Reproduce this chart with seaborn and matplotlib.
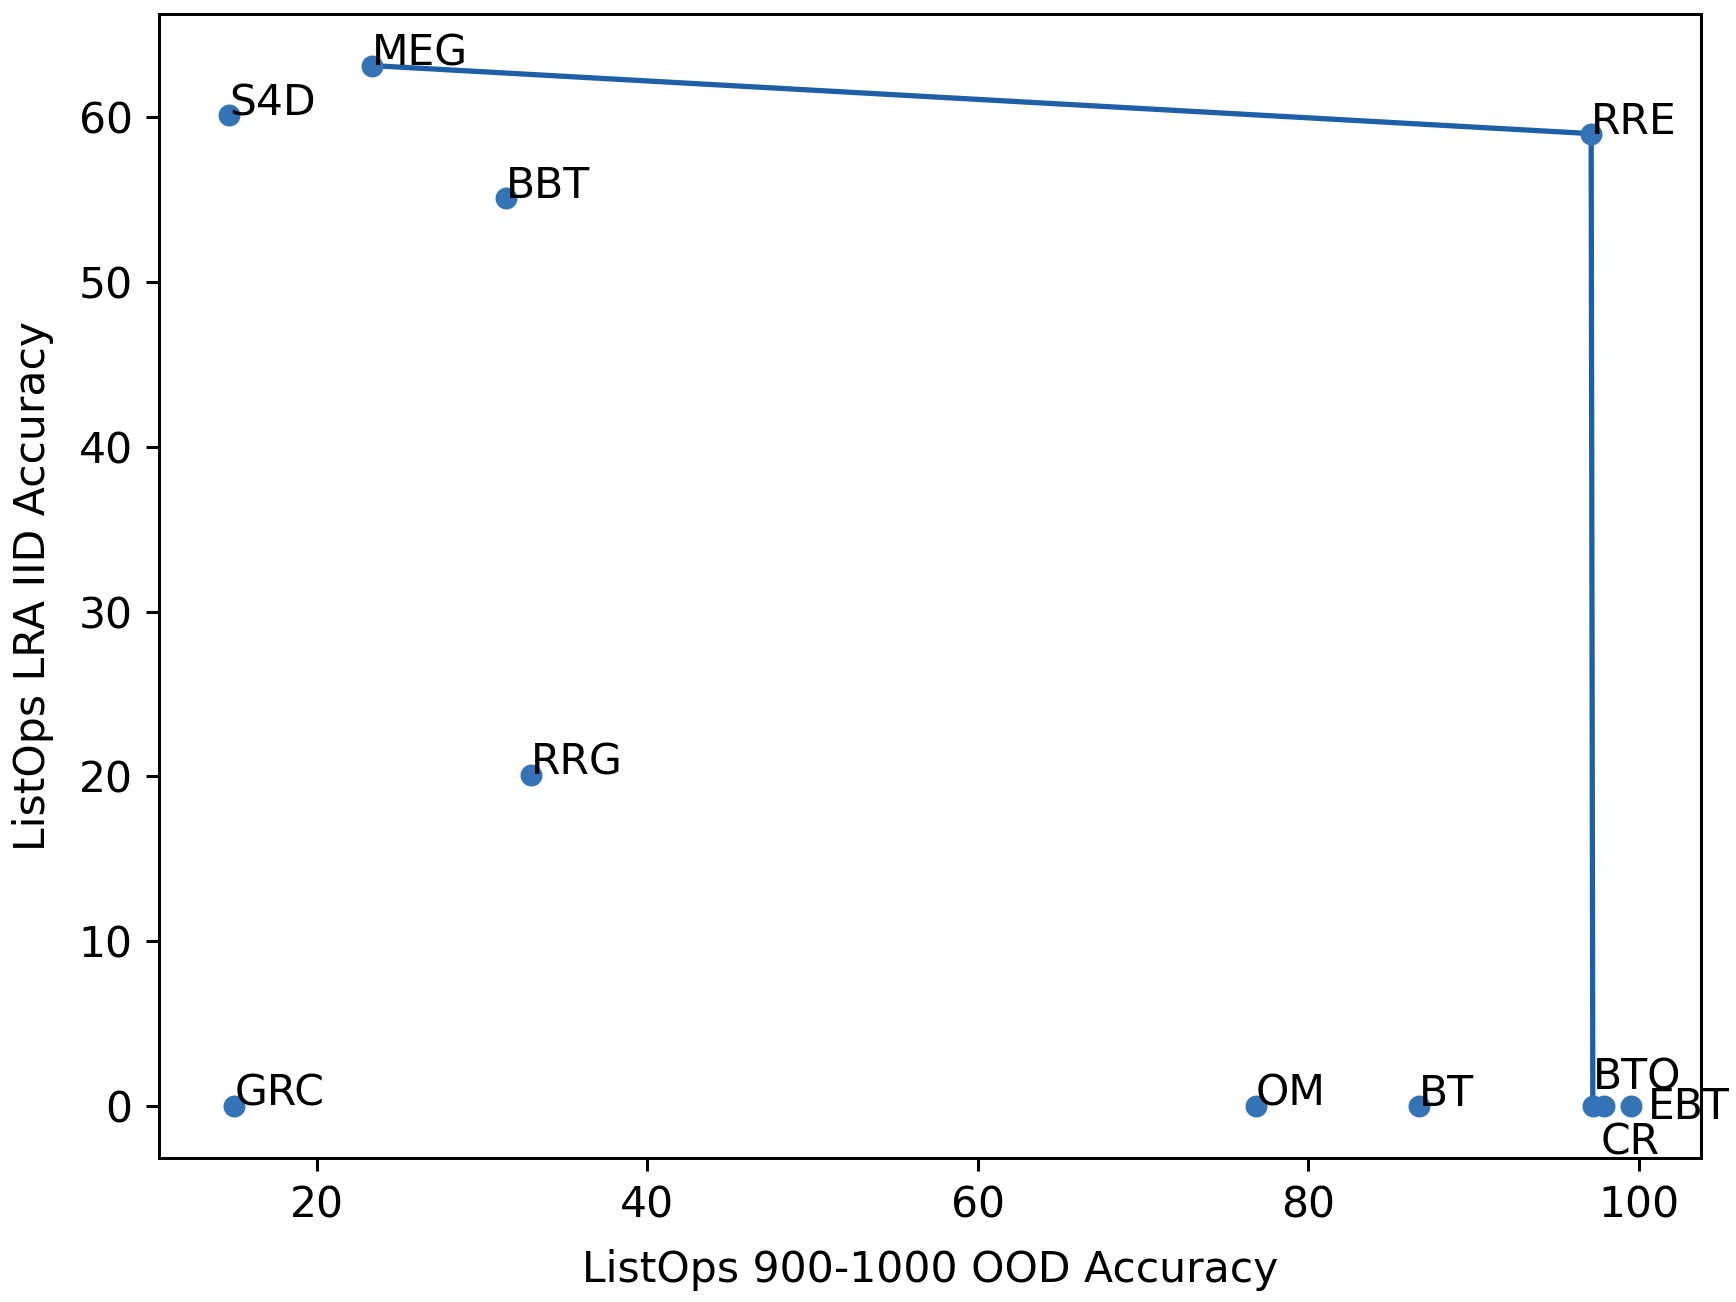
import matplotlib
matplotlib.use("Agg")
import matplotlib.pyplot as plt
import seaborn as sns
import pandas as pd

# ---- data ----
models = ["S4D", "MEG", "BBT", "RRG", "GRC", "OM", "BT", "RRE", "BTO", "CR", "EBT"]
ood_acc = [14.71, 23.33, 31.47, 32.95, 15.02, 76.8, 86.67, 97.1, 97.2, 97.88, 99.52]
iid_acc = [60.11, 63.13, 55.07, 20.1, 0.0, 0.0, 0.0, 59.0, 0.0, 0.0, 0.0]
pareto_models = ["MEG", "RRE", "BTO"]

# label nudges (data units) for crowded labels
label_nudge = {"BTO": (0.0, 1.0), "CR": (-0.2, -2.95), "EBT": (1.0, -0.8)}

FS = 11.3

df = pd.DataFrame({"model": models, "ood": ood_acc, "iid": iid_acc})
front = df.set_index("model").loc[pareto_models].reset_index()

fig = plt.figure(figsize=(6.4, 4.8), dpi=271.25)
ax = fig.add_axes([0.0916, 0.1106, 0.980 - 0.0916, 0.9896 - 0.1106])

sns.lineplot(data=front, x="ood", y="iid", sort=False, estimator=None,
             color="#1f5fa8", linewidth=1.4, ax=ax, zorder=2)
sns.scatterplot(data=df, x="ood", y="iid", color="#3473b5", s=34,
                linewidth=0, ax=ax, zorder=3)

for m, xv, yv in zip(models, ood_acc, iid_acc):
    dx, dy = label_nudge.get(m, (0.0, 0.0))
    ax.text(xv + dx, yv + dy, m, fontsize=FS, color="black", zorder=4)

ax.tick_params(labelsize=FS)
ax.set_xlabel("ListOps 900-1000 OOD Accuracy", fontsize=FS, labelpad=6)
ax.set_ylabel("ListOps LRA IID Accuracy", fontsize=FS, labelpad=6.5)

fig.savefig("out.png", dpi=271.25)
